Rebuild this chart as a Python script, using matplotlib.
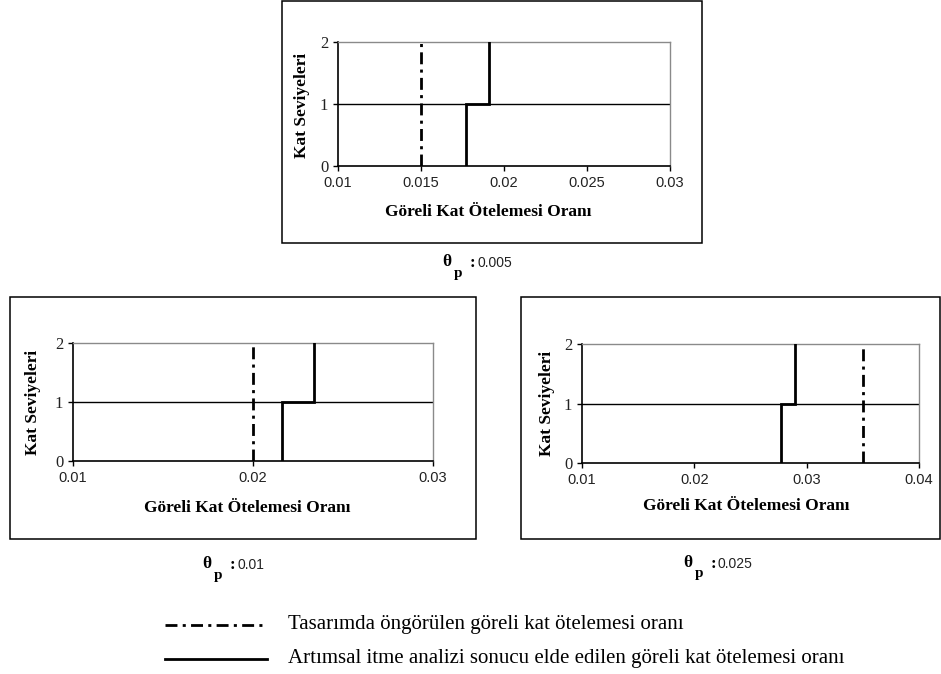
import matplotlib
matplotlib.use("Agg")
import matplotlib.pyplot as plt
from matplotlib.patches import Rectangle
from matplotlib.lines import Line2D

# ---- data ----
levels = [0, 1, 2]
design_drift = [0.015, 0.020, 0.035]          # Tasarımda öngörülen göreli kat ötelemesi oranı
pushover_story1 = [0.0177, 0.0216, 0.0277]    # Artımsal itme analizi, 1. kat
pushover_story2 = [0.0191, 0.0234, 0.0290]    # Artımsal itme analizi, 2. kat
theta_p = ["0.005", "0.01", "0.025"]
xlims = [(0.01, 0.03), (0.01, 0.03), (0.01, 0.04)]
xticks = [[0.01, 0.015, 0.02, 0.025, 0.03], [0.01, 0.02, 0.03], [0.01, 0.02, 0.03, 0.04]]
xticklabels = [["0.01", "0.015", "0.02", "0.025", "0.03"], ["0.01", "0.02", "0.03"],
               ["0.01", "0.02", "0.03", "0.04"]]
ylabel = "Kat Seviyeleri"
xlabel = "Göreli Kat Ötelemesi Oranı"
legend_labels = ["Tasarımda öngörülen göreli kat ötelemesi oranı",
                 "Artımsal itme analizi sonucu elde edilen göreli kat ötelemesi oranı"]

W, H = 941, 674
fig = plt.figure(figsize=(W / 100, H / 100), dpi=100)
fig.patch.set_facecolor("white")

def fx(x):
    return x / W

def fy(y):
    return 1 - y / H

SERIF = ["Liberation Serif", "DejaVu Serif"]
SANS = ["Liberation Sans", "DejaVu Sans"]
DASHDOT = (0, (4.3, 1.9, 1.1, 1.9))

# layout in pixels: box (x0,y0,x1,y1), axes (x0,y0,x1,y1), ylabel pos, xlabel pos, theta pos
panels = [
    dict(box=(282, 1, 702, 243), ax=(338, 42, 670, 166), yl=(302, 105), xl=(488, 212), th=(447, 262)),
    dict(box=(10, 297, 476, 539), ax=(73, 343, 433, 461), yl=(33, 402), xl=(247, 508), th=(207, 564)),
    dict(box=(521, 297, 940, 539), ax=(582, 344, 919, 463), yl=(547, 403), xl=(746, 506), th=(688, 563)),
]

for i, p in enumerate(panels):
    bx0, by0, bx1, by1 = p["box"]
    fig.add_artist(Rectangle((fx(bx0), fy(by1)), fx(bx1 - bx0), (by1 - by0) / H,
                             transform=fig.transFigure, fill=False, edgecolor="black", lw=1.1))
    ax0, ay0, ax1, ay1 = p["ax"]
    ax = fig.add_axes([fx(ax0), fy(ay1), fx(ax1 - ax0), (ay1 - ay0) / H])
    ax.set_xlim(*xlims[i])
    ax.set_ylim(levels[0], levels[-1])
    ax.axhline(1, color="black", lw=1.0, zorder=1)
    ax.plot([design_drift[i], design_drift[i]], [levels[0], levels[-1]], color="black",
            lw=2.0, linestyle=DASHDOT, dash_capstyle="butt", zorder=3)
    ax.plot([pushover_story1[i], pushover_story1[i], pushover_story2[i], pushover_story2[i]],
            [levels[0], levels[1], levels[1], levels[2]], color="black", lw=2.0, zorder=3,
            solid_joinstyle="miter")
    for s in ("top", "right"):
        ax.spines[s].set_color("#8a8a8a")
        ax.spines[s].set_linewidth(1.0)
    for s in ("left", "bottom"):
        ax.spines[s].set_color("black")
        ax.spines[s].set_linewidth(1.2)
    ax.set_xticks(xticks[i])
    ax.set_xticklabels(xticklabels[i], fontfamily=SANS, fontsize=10.5, color="#222222")
    ax.set_yticks(levels)
    ax.set_yticklabels([str(v) for v in levels], fontfamily=SERIF, fontsize=12, color="#222222")
    ax.tick_params(axis="both", direction="out", length=3.5, width=1.0, pad=3.5)
    fig.text(fx(p["yl"][0]), fy(p["yl"][1]), ylabel, rotation=90, ha="center", va="center",
             fontfamily=SERIF, fontweight="bold", fontsize=12.5)
    fig.text(fx(p["xl"][0]), fy(p["xl"][1]), xlabel, ha="center", va="center",
             fontfamily=SERIF, fontweight="bold", fontsize=12.5)
    tx, ty = p["th"]
    fig.text(fx(tx), fy(ty), "θ", ha="center", va="center", fontfamily=SERIF,
             fontweight="bold", fontsize=12.5)
    fig.text(fx(tx + 11), fy(ty + 11), "p", ha="center", va="center", fontfamily=SERIF,
             fontweight="bold", fontsize=11)
    fig.text(fx(tx + 25), fy(ty + 1), ":", ha="center", va="center", fontfamily=SERIF,
             fontweight="bold", fontsize=12)
    fig.text(fx(tx + 30), fy(ty + 1), theta_p[i], ha="left", va="center", fontfamily=SANS,
             fontsize=10, color="#222222")

# legend
leg_y = [625, 659]
styles = [DASHDOT, "-"]
for yy, st, lab in zip(leg_y, styles, legend_labels):
    fig.add_artist(Line2D([fx(165), fx(267)], [fy(yy), fy(yy)], transform=fig.transFigure,
                          color="black", lw=2.0, linestyle=st, dash_capstyle="butt"))
    fig.text(fx(288), fy(yy), lab, ha="left", va="center", fontfamily=SERIF, fontsize=15)

fig.savefig("out.png", dpi=100, facecolor="white")
